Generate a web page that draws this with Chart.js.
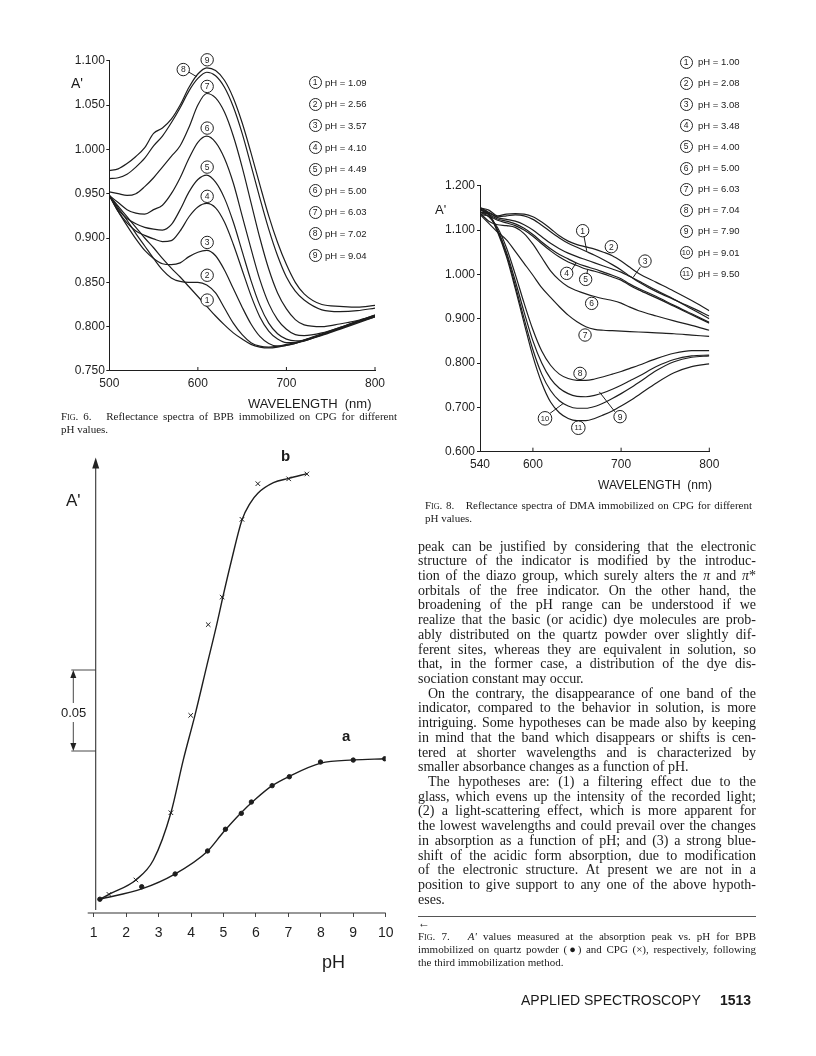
<!DOCTYPE html>
<html lang="en">
<head>
<meta charset="UTF-8">
<meta name="viewport" content="width=device-width, initial-scale=1.0">
<title>Applied Spectroscopy 1513 - Figs. 6 to 8</title>
<script src="https://cdn.jsdelivr.net/npm/chart.js"></script>
<style>
    body { margin: 0; background: #fff; }
    #page { position: relative; width: 816px; height: 1056px; overflow: hidden; color: #1b1b1b;
            font-family: "Liberation Sans", Arial, sans-serif; }
    #page canvas { position: absolute; left: 0; top: 0; }
    .lbl { position: absolute; white-space: nowrap; line-height: 1; }
    .circ { position: absolute; width: 11px; height: 11px; border: 1px solid #222; border-radius: 50%;
            font-size: 8.5px; line-height: 11px; text-align: center; }
    .serif { position: absolute; font-family: "Liberation Serif", "Times New Roman", serif; line-height: 1; }
    .jl { text-align: justify; text-align-last: justify; }
    .sc { font-variant: small-caps; }
</style>
</head>
<body>
<div id="page">
    <canvas id="fig6" width="816" height="1056"></canvas>
    <canvas id="fig8" width="816" height="1056"></canvas>
    <canvas id="fig7" width="816" height="1056"></canvas>
</div>

<script>
// ---------- Fig. 6 : BPB on CPG (wavelength nm vs A') ----------
const wl6 = [500,510,520,530,540,550,560,570,580,590,600,610,620,630,640,650,660,670,680,690,700,710,720,740,760,780,800];
const ph6 = ['1.09','2.56','3.57','4.10','4.49','5.00','6.03','7.02','9.04'];
const bpb1 = [0.948,0.936,0.924,0.912,0.900,0.889,0.877,0.866,0.856,0.845,0.834,0.823,0.812,0.802,0.793,0.786,0.780,0.777,0.776,0.777,0.779,0.781,0.784,0.790,0.797,0.804,0.811];
const bpb2 = [0.948,0.934,0.920,0.905,0.891,0.877,0.864,0.855,0.851,0.850,0.850,0.847,0.838,0.821,0.804,0.791,0.782,0.778,0.777,0.778,0.780,0.782,0.785,0.791,0.798,0.805,0.811];
const bpb3 = [0.948,0.930,0.914,0.899,0.886,0.877,0.871,0.870,0.872,0.879,0.884,0.886,0.880,0.864,0.843,0.822,0.803,0.789,0.781,0.778,0.779,0.781,0.785,0.792,0.799,0.806,0.812];
const bpb4 = [0.948,0.930,0.917,0.908,0.903,0.899,0.896,0.897,0.908,0.924,0.935,0.939,0.934,0.918,0.893,0.864,0.835,0.811,0.795,0.786,0.782,0.782,0.784,0.791,0.798,0.806,0.812];
const bpb5 = [0.948,0.932,0.922,0.916,0.912,0.910,0.909,0.915,0.932,0.952,0.966,0.971,0.963,0.945,0.918,0.885,0.852,0.824,0.804,0.792,0.786,0.784,0.785,0.791,0.798,0.805,0.812];
const bpb6 = [0.948,0.940,0.932,0.928,0.927,0.932,0.937,0.950,0.968,0.990,1.008,1.015,1.008,0.990,0.962,0.925,0.888,0.853,0.826,0.808,0.797,0.791,0.790,0.793,0.799,0.806,0.813];
const bpb7 = [0.952,0.950,0.948,0.950,0.958,0.968,0.980,0.992,1.004,1.025,1.050,1.063,1.058,1.042,1.015,0.980,0.940,0.900,0.865,0.838,0.820,0.808,0.802,0.800,0.803,0.807,0.813];
const bpb8 = [0.967,0.968,0.972,0.980,0.990,1.004,1.015,1.030,1.047,1.066,1.080,1.087,1.083,1.070,1.048,1.018,0.982,0.945,0.910,0.880,0.856,0.840,0.830,0.819,0.817,0.818,0.821];
const bpb9 = [0.976,0.978,0.984,0.992,1.002,1.018,1.024,1.034,1.050,1.070,1.085,1.092,1.089,1.078,1.058,1.030,0.996,0.960,0.925,0.895,0.870,0.850,0.837,0.825,0.823,0.822,0.824];
const bpbCurves = [bpb1,bpb2,bpb3,bpb4,bpb5,bpb6,bpb7,bpb8,bpb9];
// circled curve numbers: [number, nm, A']
const tags6 = [[1,610.5,0.830],[2,610.5,0.858],[3,610.5,0.895],[4,610.5,0.947],[5,610.5,0.980],
               [6,610.5,1.024],[7,610.5,1.071],[8,583.5,1.090],[9,610.5,1.101]];
const leaders6 = [[589,1.0876,598.6,1.082]];

// ---------- Fig. 8 : DMA on CPG ----------
const wl8 = [540,550,560,570,580,590,600,610,620,630,640,650,660,670,680,690,700,710,720,740,760,780,800];
const ph8 = ['1.00','2.08','3.08','3.48','4.00','5.00','6.03','7.04','7.90','9.01','9.50'];
const dma1  = [1.145,1.140,1.130,1.132,1.134,1.132,1.124,1.111,1.096,1.082,1.070,1.061,1.052,1.043,1.033,1.022,1.010,0.996,0.983,0.961,0.943,0.925,0.906];
const dma2  = [1.150,1.145,1.132,1.136,1.137,1.136,1.130,1.118,1.103,1.087,1.075,1.067,1.062,1.057,1.050,1.042,1.030,1.016,1.002,0.982,0.962,0.941,0.918];
const dma3  = [1.140,1.138,1.128,1.124,1.120,1.112,1.100,1.085,1.070,1.058,1.048,1.040,1.033,1.026,1.019,1.012,1.005,0.995,0.985,0.964,0.944,0.922,0.900];
const dma4  = [1.140,1.135,1.125,1.120,1.114,1.104,1.090,1.073,1.058,1.045,1.035,1.025,1.018,1.012,1.005,0.998,0.990,0.978,0.968,0.950,0.930,0.911,0.892];
const dma5  = [1.135,1.132,1.122,1.116,1.110,1.100,1.086,1.069,1.053,1.039,1.028,1.020,1.012,1.007,1.001,0.994,0.987,0.975,0.965,0.947,0.928,0.909,0.890];
const dma6  = [1.138,1.120,1.112,1.110,1.106,1.092,1.068,1.038,1.008,0.987,0.972,0.963,0.956,0.950,0.945,0.941,0.935,0.926,0.918,0.906,0.895,0.885,0.874];
const dma7  = [1.135,1.115,1.095,1.078,1.052,1.025,0.998,0.970,0.948,0.927,0.908,0.893,0.882,0.876,0.874,0.873,0.872,0.871,0.870,0.868,0.866,0.863,0.860];
const dma8  = [1.140,1.130,1.105,1.060,1.000,0.935,0.875,0.827,0.795,0.775,0.765,0.761,0.761,0.764,0.769,0.775,0.781,0.788,0.795,0.810,0.822,0.828,0.828];
const dma9  = [1.145,1.135,1.100,1.050,0.985,0.915,0.850,0.800,0.765,0.743,0.731,0.725,0.724,0.727,0.733,0.741,0.750,0.760,0.770,0.792,0.808,0.816,0.818];
const dma10 = [1.150,1.138,1.098,1.045,0.975,0.900,0.830,0.775,0.738,0.715,0.703,0.698,0.698,0.702,0.710,0.720,0.731,0.743,0.756,0.783,0.803,0.813,0.816];
const dma11 = [1.148,1.136,1.095,1.040,0.968,0.890,0.815,0.755,0.712,0.688,0.675,0.670,0.670,0.675,0.683,0.692,0.703,0.715,0.728,0.755,0.778,0.792,0.798];
const dmaCurves = [dma1,dma2,dma3,dma4,dma5,dma6,dma7,dma8,dma9,dma10,dma11];
const tags8 = [[1,656.4,1.0985],[2,688.9,1.0624],[3,727.1,1.030],[4,638.3,1.0023],[5,659.8,0.9887],[6,666.6,0.9346],
               [7,659.1,0.8632],[8,653.4,0.7767],[9,698.8,0.679],[10,613.7,0.6752],[11,651.5,0.6541]];
const leaders8 = [[658,1.085,661,1.053],[722,1.017,713.6,0.993],[644,1.010,648.9,1.026],[661,0.998,662,1.011],
                  [693,0.690,675.3,0.735],[619.4,0.6865,634.5,0.709]];

// ---------- Fig. 7 : A' at absorption peak vs pH ----------
const phQuartz = [1.19,2.48,3.51,4.51,5.06,5.55,5.86,6.50,7.03,7.99,9.00,9.97];
const aQuartz  = [0.0085,0.0162,0.0241,0.0383,0.0517,0.0615,0.0685,0.0786,0.0841,0.0932,0.0944,0.0952];
const phCPG = [1.47,2.30,3.38,3.99,4.53,4.96,5.57,6.06,7.01,7.57];
const aCPG  = [0.0115,0.0204,0.0619,0.122,0.178,0.195,0.243,0.265,0.268,0.271];
const fitPhA = [1.19,2.5,3.5,4.5,5.0,5.5,6.0,6.5,7.0,8.0,9.0,9.97];
const fitA   = [0.0085,0.0150,0.0240,0.0380,0.0500,0.0610,0.0705,0.0786,0.0841,0.0925,0.0945,0.0952];
const fitPhB = [1.19,1.47,2.30,2.84,3.38,3.76,4.12,4.48,4.79,4.96,5.25,5.57,5.82,6.06,6.54,7.01,7.57];
const fitB   = [0.0085,0.0115,0.0204,0.0327,0.0619,0.0944,0.1220,0.1521,0.1778,0.1932,0.2179,0.2426,0.2529,0.2591,0.2656,0.2683,0.2712];
const phTicks = [1,2,3,4,5,6,7,8,9,10];

const INK = '#1e1e1e';
const sans = { family: '"Liberation Sans", Arial, sans-serif' };
const xy = (xs, ys) => xs.map((v, i) => ({ x: v, y: ys[i] }));

// circled numbers, leader lines and inward x ticks
const annot = {
    id: 'annot',
    afterDatasetsDraw(chart, args, o) {
        const { ctx } = chart;
        const { x, y } = chart.scales;
        ctx.save();
        ctx.strokeStyle = INK;
        ctx.lineWidth = 1;
        (o.xTicks || []).forEach(v => {
            const px = x.getPixelForValue(v);
            ctx.beginPath(); ctx.moveTo(px, y.bottom); ctx.lineTo(px, y.bottom - 4); ctx.stroke();
        });
        (o.leaders || []).forEach(l => {
            ctx.beginPath();
            ctx.moveTo(x.getPixelForValue(l[0]), y.getPixelForValue(l[1]));
            ctx.lineTo(x.getPixelForValue(l[2]), y.getPixelForValue(l[3]));
            ctx.stroke();
        });
        ctx.textAlign = 'center';
        ctx.textBaseline = 'middle';
        (o.tags || []).forEach(([n, vx, vy]) => {
            const px = x.getPixelForValue(vx), py = y.getPixelForValue(vy);
            const r = n > 9 ? 6.8 : 6.2;
            ctx.fillStyle = '#fff';
            ctx.beginPath(); ctx.arc(px, py, r, 0, Math.PI * 2); ctx.fill(); ctx.stroke();
            ctx.fillStyle = INK;
            ctx.font = (n > 9 ? '7.5px ' : '8.5px ') + sans.family;
            ctx.fillText(String(n), px, py + 0.5);
        });
        ctx.restore();
    }
};

function spectrumChart(id, wl, curves, xr, yr, box, plug) {
    return new Chart(document.getElementById(id), {
        type: 'line',
        data: {
            datasets: curves.map(c => ({
                data: xy(wl, c), borderColor: INK, borderWidth: 1.2, pointRadius: 0,
                cubicInterpolationMode: 'monotone', fill: false
            }))
        },
        options: {
            responsive: false, animation: false, events: [],
            layout: { padding: box.pad },
            plugins: { legend: { display: false }, tooltip: { enabled: false }, annot: plug },
            scales: {
                x: {
                    type: 'linear', min: xr.min, max: xr.max,
                    afterFit: s => { s.height = box.xh; },
                    afterBuildTicks: s => { s.ticks = xr.ticks.map(v => ({ value: v })); },
                    grid: { display: false, drawTicks: false },
                    border: { display: true, color: INK, width: 1 },
                    ticks: { color: INK, font: { ...sans, size: 12 }, padding: box.xpad, maxRotation: 0 }
                },
                y: {
                    min: yr.min, max: yr.max,
                    afterFit: s => { s.width = box.yw; },
                    afterBuildTicks: s => { s.ticks = yr.ticks.map(v => ({ value: v })); },
                    grid: { display: true, drawOnChartArea: false, tickLength: box.tl, color: INK },
                    border: { display: true, color: INK, width: 1 },
                    ticks: { color: INK, font: { ...sans, size: 12 }, padding: box.ypad,
                             callback: v => v.toFixed(3) }
                }
            }
        },
        plugins: [annot]
    });
}

spectrumChart('fig6', wl6, bpbCurves,
    { min: 500, max: 800, ticks: [500, 600, 700, 800] },
    { min: 0.75, max: 1.10, ticks: [0.75, 0.80, 0.85, 0.90, 0.95, 1.00, 1.05, 1.10] },
    { pad: { left: 49.3, right: 441, top: 60.7, bottom: 665 }, xh: 20, yw: 60, tl: 3, ypad: 1.5, xpad: 5 },
    { tags: tags6, leaders: leaders6, xTicks: [600, 700, 800] });

spectrumChart('fig8', wl8, dmaCurves,
    { min: 540, max: 800, ticks: [540, 600, 700, 800] },
    { min: 0.6, max: 1.2, ticks: [0.6, 0.7, 0.8, 0.9, 1.0, 1.1, 1.2] },
    { pad: { left: 430, right: 106.7, top: 185.7, bottom: 584.3 }, xh: 20, yw: 50, tl: 3, ypad: 2, xpad: 6 },
    { tags: tags8, leaders: leaders8, xTicks: [600, 700, 800] });

// Fig. 7 axes: arrowed y axis, long x axis and the 0.05 scale bracket
const axes7 = {
    id: 'axes7',
    afterDraw(chart, args, o) {
        const { ctx, chartArea: a } = chart;
        const y = chart.scales.y;
        ctx.save();
        ctx.strokeStyle = '#333';
        ctx.fillStyle = '#222';
        ctx.lineWidth = 1.1;
        ctx.beginPath(); ctx.moveTo(a.left - 6, a.bottom); ctx.lineTo(a.right, a.bottom); ctx.stroke();
        const ax = a.left + 2;
        ctx.beginPath(); ctx.moveTo(ax, a.bottom - 3); ctx.lineTo(ax, a.top + 4); ctx.stroke();
        ctx.beginPath(); ctx.moveTo(ax, a.top - 2); ctx.lineTo(ax - 3.5, a.top + 9); ctx.lineTo(ax + 3.5, a.top + 9); ctx.closePath(); ctx.fill();
        const y1 = y.getPixelForValue(o.bracket[1]), y2 = y.getPixelForValue(o.bracket[0]);
        const bx = 73.3;
        ctx.lineWidth = 0.9;
        ctx.beginPath(); ctx.moveTo(bx - 2, y1); ctx.lineTo(ax, y1); ctx.moveTo(bx - 2, y2); ctx.lineTo(ax, y2); ctx.stroke();
        ctx.beginPath(); ctx.moveTo(bx, y1 + 6); ctx.lineTo(bx, y1 + 33); ctx.moveTo(bx, y2 - 29); ctx.lineTo(bx, y2 - 6); ctx.stroke();
        ctx.beginPath(); ctx.moveTo(bx, y1); ctx.lineTo(bx - 3, y1 + 8); ctx.lineTo(bx + 3, y1 + 8); ctx.closePath(); ctx.fill();
        ctx.beginPath(); ctx.moveTo(bx, y2); ctx.lineTo(bx - 3, y2 - 8); ctx.lineTo(bx + 3, y2 - 8); ctx.closePath(); ctx.fill();
        ctx.restore();
    }
};

new Chart(document.getElementById('fig7'), {
    type: 'line',
    data: {
        datasets: [
            { data: xy(fitPhB, fitB), borderColor: INK, borderWidth: 1.4, pointRadius: 0, cubicInterpolationMode: 'monotone' },
            { data: xy(fitPhA, fitA), borderColor: INK, borderWidth: 1.4, pointRadius: 0, cubicInterpolationMode: 'monotone' },
            { data: xy(phCPG, aCPG), showLine: false, pointStyle: 'crossRot', pointRadius: 3.2, borderWidth: 1, borderColor: INK },
            { data: xy(phQuartz, aQuartz), showLine: false, pointStyle: 'circle', pointRadius: 2.2, backgroundColor: INK, borderColor: INK }
        ]
    },
    options: {
        responsive: false, animation: false, events: [],
        layout: { padding: { left: 93.7, right: 430.3, top: 459.4, bottom: 113 } },
        plugins: { legend: { display: false }, tooltip: { enabled: false }, axes7: { bracket: [0.10, 0.15] } },
        scales: {
            x: {
                type: 'linear', min: 1, max: 10,
                afterFit: s => { s.height = 30; },
                afterBuildTicks: s => { s.ticks = phTicks.map(v => ({ value: v })); },
                grid: { display: true, drawOnChartArea: false, tickLength: 4, color: '#444' },
                border: { display: false },
                ticks: { color: INK, font: { ...sans, size: 14 }, padding: 8, maxRotation: 0 }
            },
            y: { display: false, min: 0, max: 0.28 }
        }
    },
    plugins: [axes7]
});

// ---------- text ----------
const page = document.getElementById('page');
function txt(html, left, top, cls, css) {
    const d = document.createElement('div');
    d.className = cls;
    d.innerHTML = html;
    d.style.left = left + 'px';
    d.style.top = top + 'px';
    Object.assign(d.style, css || {});
    page.appendChild(d);
    return d;
}
function circ(n, cx, cy) {
    txt(String(n), cx - 6.5, cy - 6.5, 'circ', n > 9 ? { fontSize: '7.5px' } : {});
}

// legends
ph6.forEach((p, i) => {
    const cy = 82.7 + i * 21.6;
    circ(i + 1, 315, cy);
    txt('pH = ' + p, 325, cy - 5, 'lbl', { fontSize: '9.5px' });
});
ph8.forEach((p, i) => {
    const cy = 62.3 + i * 21.14;
    circ(i + 1, 686, cy);
    txt('pH = ' + p, 698, cy - 5, 'lbl', { fontSize: '9.5px' });
});

// axis titles
txt("A'", 71, 76, 'lbl', { fontSize: '14px' });
txt('WAVELENGTH&nbsp;&nbsp;(nm)', 248, 397, 'lbl', { fontSize: '13px' });
txt("A'", 435, 203, 'lbl', { fontSize: '13px' });
txt('WAVELENGTH&nbsp;&nbsp;(nm)', 598, 479, 'lbl', { fontSize: '12px' });
txt("A'", 66, 492, 'lbl', { fontSize: '17px' });
txt('b', 281, 448, 'lbl', { fontSize: '15px', fontWeight: 'bold' });
txt('a', 342, 728, 'lbl', { fontSize: '15px', fontWeight: 'bold' });
txt('0.05', 61, 706, 'lbl', { fontSize: '13px' });
txt('pH', 322, 953, 'lbl', { fontSize: '18px' });

// captions
const capFs = '11px';
txt('<span class="sc">Fig</span>. 6.&nbsp;&nbsp;&nbsp;Reflectance spectra of BPB immobilized on CPG for different', 61, 411, 'serif jl', { fontSize: capFs, width: '336px' });
txt('pH values.', 61, 424, 'serif', { fontSize: capFs });
txt('<span class="sc">Fig</span>. 8.&nbsp;&nbsp;&nbsp;Reflectance spectra of DMA immobilized on CPG for different', 425, 500, 'serif jl', { fontSize: capFs, width: '327px' });
txt('pH values.', 425, 513, 'serif', { fontSize: capFs });

// body text
const bodyLines = [
    ['peak can be justified by considering that the electronic', 1],
    ['structure of the indicator is modified by the introduc-', 1],
    ['tion of the diazo group, which surely alters the <i>π</i> and <i>π</i>*', 1],
    ['orbitals of the free indicator. On the other hand, the', 1],
    ['broadening of the pH range can be understood if we', 1],
    ['realize that the basic (or acidic) dye molecules are prob-', 1],
    ['ably distributed on the quartz powder over slightly dif-', 1],
    ['ferent sites, whereas they are equivalent in solution, so', 1],
    ['that, in the former case, a distribution of the dye dis-', 1],
    ['sociation constant may occur.', 0],
    ['On the contrary, the disappearance of one band of the', 2],
    ['indicator, compared to the behavior in solution, is more', 1],
    ['intriguing. Some hypotheses can be made also by keeping', 1],
    ['in mind that the band which disappears or shifts is cen-', 1],
    ['tered at shorter wavelengths and is characterized by', 1],
    ['smaller absorbance changes as a function of pH.', 0],
    ['The hypotheses are: (1) a filtering effect due to the', 2],
    ['glass, which evens up the intensity of the recorded light;', 1],
    ['(2) a light-scattering effect, which is more apparent for', 1],
    ['the lowest wavelengths and could prevail over the changes', 1],
    ['in absorption as a function of pH; and (3) a strong blue-', 1],
    ['shift of the acidic form absorption, due to modification', 1],
    ['of the electronic structure. At present we are not in a', 1],
    ['position to give support to any one of the above hypoth-', 1],
    ['eses.', 0]
];
bodyLines.forEach(([s, mode], i) => {
    const css = { fontSize: '14px', width: '338px' };
    if (mode === 2) css.textIndent = '10px';
    txt(s, 418, 547 + i * 14.72 - 7.5, mode ? 'serif jl' : 'serif', css);
});

// Fig. 7 caption block
txt('', 418, 916, 'lbl', { width: '338px', height: '1px', background: '#555' });
txt('&#8592;', 418, 917, 'serif', { fontSize: '12px' });
const cap7 = [
    '<span class="sc">Fig</span>. 7.&nbsp;&nbsp;&nbsp;<i>A\'</i> values measured at the absorption peak vs. pH for BPB',
    'immobilized on quartz powder (&#9679;) and CPG (&times;), respectively, following'
];
cap7.forEach((s, i) => txt(s, 418, 930.5 + i * 13.4, 'serif jl', { fontSize: capFs, width: '338px' }));
txt('the third immobilization method.', 418, 957.3, 'serif', { fontSize: capFs });

// running footer
txt('APPLIED SPECTROSCOPY', 521, 993, 'lbl', { fontSize: '14px' });
txt('1513', 720, 993, 'lbl', { fontSize: '14px', fontWeight: 'bold' });
</script>
</body>
</html>
